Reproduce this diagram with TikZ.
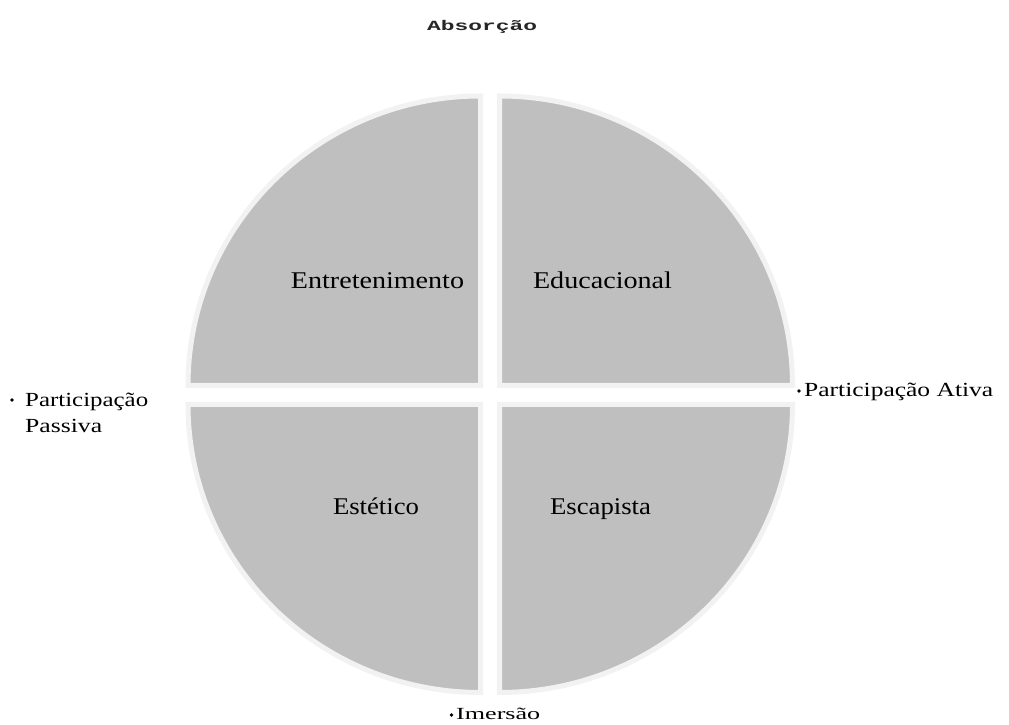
\documentclass[tikz,border=0pt]{standalone}
\usepackage{fontspec}
\usepackage{graphicx}
\setmainfont{Liberation Serif}
\newfontfamily\absfont{Liberation Mono}
\definecolor{qfill}{HTML}{BFBFBF}
\definecolor{qedge}{HTML}{F2F2F2}
\definecolor{abscol}{HTML}{262626}
% stretch a text horizontally to a given width, keeping its height
\newcommand{\wtext}[3]{\resizebox{#1}{\height}{\fontsize{#2}{#2}\selectfont #3}}
\begin{document}
\begin{tikzpicture}[x=1pt,y=1pt,
  quad/.style={fill=qfill,draw=qedge,line width=5pt,line join=miter},
  lbl/.style={inner sep=0pt,anchor=base,text=black},
  side/.style={inner sep=0pt,anchor=base west,text=black},
  dot/.style={circle,fill=black,inner sep=0pt,minimum size=3.6pt}]
\useasboundingbox (0,0) rectangle (1009,725);
\fill[white] (0,0) rectangle (1009,725);
% four quadrants of the experience circle
\draw[quad] (480.5,339.5) -- ++(0,289.5) arc[start angle=90,end angle=180,x radius=292.5,y radius=289.5] -- cycle;
\draw[quad] (499.5,339.5) -- ++(293,0) arc[start angle=0,end angle=90,x radius=293,y radius=289.5] -- cycle;
\draw[quad] (480.5,320.5) -- ++(-292.5,0) arc[start angle=180,end angle=270,x radius=292.5,y radius=288] -- cycle;
\draw[quad] (499.5,320.5) -- ++(0,-288) arc[start angle=270,end angle=360,x radius=293,y radius=288] -- cycle;
% quadrant labels
\node[lbl] (ent) at (377.5,436) {\wtext{173pt}{24}{Entretenimento}};
\node[lbl] (edu) at (602.5,436) {\wtext{139pt}{24}{Educacional}};
\node[lbl] (est) at (376,210) {\wtext{86pt}{24}{Estético}};
\node[lbl] (esc) at (600.5,210) {\wtext{101pt}{24}{Escapista}};
% axis labels
\node[side] (abs) at (427,694) {\textcolor{abscol}{\wtext{110pt}{14}{\absfont\bfseries Absorção}}};
\node[dot] (bl) at (12,325) {};
\node[side] (pas1) at (25,318) {\wtext{123pt}{20}{Participação}};
\node[side] (pas2) at (25,292) {\wtext{77pt}{20}{Passiva}};
\node[dot] (br) at (799,334) {};
\node[side] (ati) at (804,328) {\wtext{189pt}{20}{Participação Ativa}};
\node[dot] (bi) at (451.5,10) {};
\node[side] (ime) at (456,5) {\wtext{84pt}{17}{Imersão}};
\end{tikzpicture}
\end{document}
